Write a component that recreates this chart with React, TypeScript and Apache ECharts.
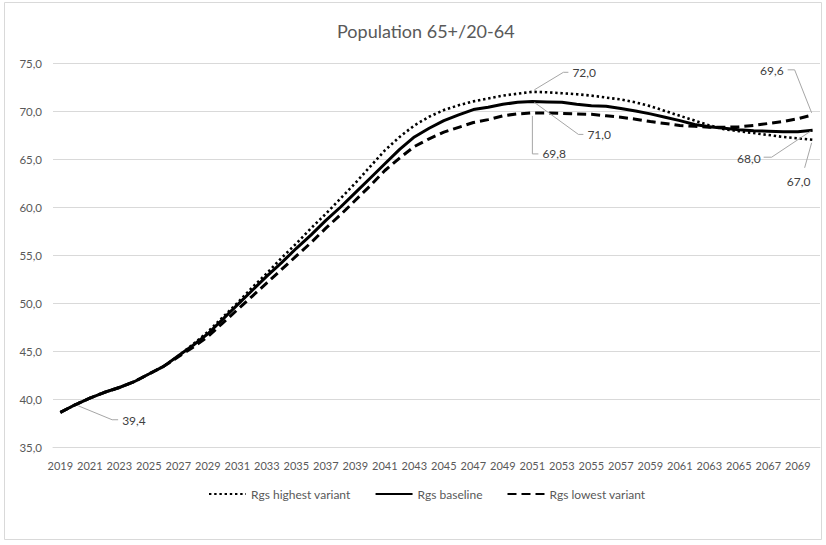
import React, { useEffect, useRef } from 'react';
import * as echarts from 'echarts';

const years = [
  '2019', '2020', '2021', '2022', '2023', '2024', '2025', '2026', '2027', '2028',
  '2029', '2030', '2031', '2032', '2033', '2034', '2035', '2036', '2037', '2038',
  '2039', '2040', '2041', '2042', '2043', '2044', '2045', '2046', '2047', '2048',
  '2049', '2050', '2051', '2052', '2053', '2054', '2055', '2056', '2057', '2058',
  '2059', '2060', '2061', '2062', '2063', '2064', '2065', '2066', '2067', '2068',
  '2069', '2070',
];

const highestVariant = [
  38.6, 39.4, 40.1, 40.7, 41.2, 41.8, 42.6, 43.4, 44.5, 45.7,
  47.0, 48.5, 50.0, 51.6, 53.1, 54.7, 56.2, 57.8, 59.3, 60.9,
  62.5, 64.2, 65.9, 67.3, 68.5, 69.4, 70.1, 70.6, 71.0, 71.3,
  71.6, 71.8, 72.0, 71.95, 71.85, 71.75, 71.6, 71.4, 71.2, 70.9,
  70.5, 70.0, 69.5, 69.0, 68.5, 68.1, 67.9, 67.7, 67.5, 67.3,
  67.15, 67.0,
];

const baseline = [
  38.6, 39.4, 40.1, 40.7, 41.2, 41.8, 42.6, 43.4, 44.5, 45.6,
  46.8, 48.3, 49.8, 51.3, 52.8, 54.2, 55.7, 57.1, 58.6, 60.0,
  61.5, 63.0, 64.5, 66.0, 67.3, 68.2, 69.0, 69.6, 70.15, 70.4,
  70.7, 70.9, 71.0, 70.95, 70.9, 70.7, 70.55, 70.5, 70.25, 70.0,
  69.7, 69.35, 69.0, 68.6, 68.35, 68.2, 68.05, 67.95, 67.9, 67.85,
  67.85, 68.0,
];

const lowestVariant = [
  38.6, 39.4, 40.1, 40.7, 41.2, 41.8, 42.6, 43.4, 44.4, 45.4,
  46.5, 47.9, 49.3, 50.7, 52.1, 53.5, 54.9, 56.3, 57.8, 59.2,
  60.7, 62.2, 63.8, 65.1, 66.3, 67.1, 67.8, 68.3, 68.8, 69.1,
  69.5, 69.7, 69.8, 69.8, 69.75, 69.7, 69.65, 69.5, 69.35, 69.15,
  68.9, 68.7, 68.5, 68.4, 68.3, 68.3, 68.35, 68.5, 68.7, 68.9,
  69.2, 69.6,
];

const seriesNames = ['Rgs highest variant', 'Rgs baseline', 'Rgs lowest variant'];
const seriesData = [highestVariant, baseline, lowestVariant];

const yTicks = { min: 35, max: 75, interval: 5 };

// Data labels: which series / year is labelled (layout offsets are separate)
const labelledPoints = [
  { series: 1, year: '2020' },
  { series: 0, year: '2051' },
  { series: 1, year: '2051' },
  { series: 2, year: '2051' },
  { series: 2, year: '2070' },
  { series: 1, year: '2070' },
  { series: 0, year: '2070' },
];

const labelLayouts = [
  { leader: [[3, 1], [37, 15], [43, 15]], text: [47, 16], align: 'left' },
  { leader: [[2, -2], [31, -19.5], [36, -19.5]], text: [40, -19.5], align: 'left' },
  { leader: [[2, 1], [46, 33], [51, 33]], text: [55, 33], align: 'left' },
  { leader: [[0, 3], [0, 41], [6, 41]], text: [10, 41], align: 'left' },
  { leader: [[-1, -2], [-18, -45], [-25, -45]], text: [-29, -44], align: 'right' },
  { leader: [[-2, 1], [-41, 27], [-49, 27]], text: [-52, 28], align: 'right' },
  { leader: [[-1, 3], [-8, 28]], text: [-14, 42], align: 'center' },
];

const FONT = 'Lato, "Open Sans", "Noto Sans", sans-serif';
const fmt = (v: number) => v.toFixed(1).replace('.', ',');

export default function App() {
  const ref = useRef<HTMLDivElement>(null);

  useEffect(() => {
    if (!ref.current) return;
    const chart = echarts.init(ref.current, undefined, { renderer: 'svg' });

    const lineStyles = [
      { color: '#000', width: 2.6, type: [2.4, 2.8], cap: 'butt' },
      { color: '#000', width: 3, type: 'solid' },
      { color: '#000', width: 3, type: [9, 5] },
    ];

    const option: any = {
      animation: false,
      backgroundColor: '#fff',
      title: {
        text: 'Population 65+/20-64',
        left: 332,
        top: 17,
        textStyle: { fontFamily: FONT, fontSize: 18, fontWeight: 'normal', color: '#595959' },
      },
      legend: {
        data: seriesNames,
        left: 203,
        top: 483,
        itemWidth: 37,
        itemHeight: 12,
        itemGap: 24,
        itemStyle: { opacity: 0 },
        textStyle: { fontFamily: FONT, fontSize: 12, color: '#595959' },
      },
      grid: { left: 53, right: 6, top: 63, bottom: 98, containLabel: false },
      xAxis: {
        type: 'category',
        data: years,
        boundaryGap: true,
        axisLine: { show: true, lineStyle: { color: '#d9d9d9', width: 1 } },
        axisTick: { show: false },
        axisLabel: {
          interval: 1,
          margin: 13,
          fontFamily: FONT,
          fontSize: 11,
          color: '#595959',
        },
        splitLine: { show: false },
      },
      yAxis: {
        type: 'value',
        min: yTicks.min,
        max: yTicks.max,
        interval: yTicks.interval,
        axisLine: { show: false },
        axisTick: { show: false },
        axisLabel: {
          margin: 11,
          fontFamily: FONT,
          fontSize: 11.5,
          color: '#595959',
          formatter: (v: number) => fmt(v),
        },
        splitLine: { show: true, lineStyle: { color: '#d9d9d9', width: 1 } },
      },
      series: seriesNames.map((name, i) => ({
        name,
        type: 'line',
        data: seriesData[i],
        showSymbol: false,
        symbol: 'none',
        smooth: false,
        lineStyle: lineStyles[i],
        itemStyle: { color: '#000' },
        z: i === 1 ? 3 : 2,
      })),
    };

    chart.setOption(option);

    const graphics: any[] = [
      {
        type: 'rect',
        shape: { x: 4.5, y: 2.5, width: 817, height: 537 },
        style: { fill: 'none', stroke: '#d9d9d9', lineWidth: 1 },
        silent: true,
        z: 0,
      },
    ];

    labelledPoints.forEach((lp, k) => {
      const idx = years.indexOf(lp.year);
      const val = seriesData[lp.series][idx];
      const p = chart.convertToPixel({ seriesIndex: lp.series }, [idx, val]) as number[];
      if (!p) return;
      const lay = labelLayouts[k];
      graphics.push({
        type: 'polyline',
        shape: { points: lay.leader.map(([dx, dy]) => [p[0] + dx, p[1] + dy]) },
        style: { stroke: '#a6a6a6', lineWidth: 1, fill: 'none' },
        silent: true,
        z: 10,
      });
      graphics.push({
        type: 'text',
        x: p[0] + lay.text[0],
        y: p[1] + lay.text[1],
        style: {
          text: fmt(val),
          fontFamily: FONT,
          fontSize: 12,
          fill: '#404040',
          align: lay.align,
          verticalAlign: 'middle',
        },
        silent: true,
        z: 10,
      });
    });

    chart.setOption({ graphic: graphics });

    return () => chart.dispose();
  }, []);

  return (
    <div
      ref={ref}
      style={{ position: 'fixed', left: 0, top: 0, width: 826, height: 545, background: '#fff' }}
    />
  );
}
